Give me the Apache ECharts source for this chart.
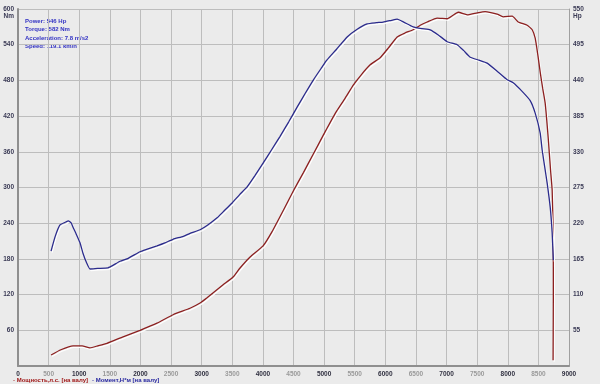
<!DOCTYPE html>
<html>
<head>
<meta charset="utf-8">
<script src="https://cdn.jsdelivr.net/npm/echarts@6/dist/echarts.min.js"></script>
<style>
html,body{margin:0;padding:0;background:#ebebeb;}
#c{width:600px;height:384px;}
</style>
</head>
<body>
<div id="c"></div>
<script>
// Torque curve (Nm, left axis)
const torqueRpm = [540,605,686,780,822,870,904,950,1013,1060,1122,1176,1300,1470,1550,1667,1800,1993,2100,2271,2400,2533,2700,2810,2974,3100,3252,3350,3497,3620,3742,3870,4003,4140,4281,4420,4559,4690,4826,4950,5044,5200,5376,5540,5703,5850,5964,6100,6193,6300,6454,6600,6732,6870,7010,7173,7280,7386,7530,7663,7830,7990,8088,8230,8366,8448,8529,8562,8610,8644,8693,8725,8742,8745];
const torqueNm  = [193,217,237,242,244,240,232,222,207,190,173,163,164,165,169,176,181,192,196,202,207,213,218,223,229,237,249,259,274,288,301,320,341,363,386,410,435,458,481,500,514,532,553,566,575,577,578,581,583,578,570,567,565,556,545,540,530,519,514,509,495,481,476,462,446,425,392,363,330,307,267,224,183,178];
// Power curve (Hp, right axis)
const powerRpm = [540,700,899,1046,1176,1300,1454,1716,1993,2271,2533,2810,2974,3088,3350,3513,3627,3791,4003,4150,4335,4499,4662,4826,4989,5098,5207,5340,5479,5610,5752,5915,6050,6193,6320,6454,6570,6683,6846,7010,7100,7190,7353,7500,7631,7827,7925,8072,8170,8317,8399,8448,8490,8529,8570,8611,8660,8700,8725,8742,8744,8744,8742,8740];
const powerHp  = [17,25,31,31,28,31,35,45,55,66,79,89,97,105,125,137,151,168,185,207,240,270,298,327,356,375,393,412,433,449,464,475,490,507,513,518,525,530,536,535,540,545,541,544,546,542,538,539,530,525,518,505,480,453,428,405,352,300,271,205,150,100,50,9];
// Texts
const infoLines = ["Power: 546 Hp","Torque: 582 Nm","Acceleration: 7.8 m/s2","Speed: 119.1 km/h"];
const legendPower = "- Мощность,л.с. [на валу]";
const legendTorque = "- Момент,Н*м [на валу]";
const leftUnit = "Nm", rightUnit = "Hp";

const FONT = "'Liberation Sans',sans-serif";
const torqueData = torqueRpm.map((r,i)=>[r,torqueNm[i]]);
const powerData = powerRpm.map((r,i)=>[r,powerHp[i]]);

const chart = echarts.init(document.getElementById('c'));
const lineShadow = {shadowColor:'rgba(255,255,255,0.95)', shadowBlur:0, shadowOffsetX:1, shadowOffsetY:1.5};
const lab = {fontFamily:FONT,fontSize:6.5,fontWeight:'bold',color:'#3a3a55'};
chart.setOption({
  backgroundColor:'#ebebeb',
  animation:false,
  grid:{left:18,right:31,top:9,bottom:18,show:false},
  xAxis:{type:'value',min:0,max:9000,interval:500,
    axisLine:{show:true,onZero:false,lineStyle:{color:'#8f8f8f',width:2}},
    axisTick:{show:false},
    splitLine:{show:true,lineStyle:{color:'#bdbdbd',width:1}},
    axisLabel:{margin:5,fontFamily:FONT,fontSize:6.5,fontWeight:'bold',
      formatter:v=> (v%1000===0 ? '{a|'+v+'}' : '{b|'+v+'}'),
      rich:{a:{color:'#303040',fontFamily:FONT,fontSize:6.5,fontWeight:'bold'},b:{color:'#9a9a9a',fontFamily:FONT,fontSize:6.5}}}
  },
  yAxis:[
    {type:'value',min:0,max:600,interval:60,position:'left',
      axisLine:{show:true,lineStyle:{color:'#8f8f8f',width:2}},
      axisTick:{show:false},
      splitLine:{show:true,lineStyle:{color:'#bdbdbd',width:1}},
      axisLabel:Object.assign({margin:4,showMinLabel:false,
        formatter:v=> v===600 ? '{t|'+v+'}\n{u|'+leftUnit+'}' : String(v),
        rich:{t:Object.assign({padding:[8,0,0,0]},lab),u:Object.assign({lineHeight:7},lab)}},lab)
    },
    {type:'value',min:0,max:550,interval:55,position:'right',
      axisLine:{show:true,lineStyle:{color:'#a0a0a0',width:1}},
      axisTick:{show:false},
      splitLine:{show:false},
      axisLabel:Object.assign({margin:4,showMinLabel:false,align:'left',
        formatter:v=> v===550 ? '{t|'+v+'}\n{u|'+rightUnit+'}' : String(v),
        rich:{t:Object.assign({padding:[8,0,0,0]},lab),u:Object.assign({lineHeight:7},lab)}},lab)
    }
  ],
  series:[
    {name:'power',type:'line',yAxisIndex:1,data:powerData,showSymbol:false,smooth:0.15,
      lineStyle:Object.assign({color:'#8c2020',width:1.3},lineShadow)},
    {name:'torque',type:'line',yAxisIndex:0,data:torqueData,showSymbol:false,smooth:0.15,
      lineStyle:Object.assign({color:'#2b2b8c',width:1.3},lineShadow)}
  ],
  graphic: infoLines.map((t,i)=>({type:'text',left:25,top:18.5+i*8.2,style:{text:t,fill:'#3333c4',font:'bold 6px '+FONT}})).concat([
    {type:'text',left:13,top:377.5,style:{text:legendPower,fill:'#a01818',font:'bold 6px '+FONT}},
    {type:'text',left:92,top:377.5,style:{text:legendTorque,fill:'#2828a0',font:'bold 6px '+FONT}}
  ])
});
</script>
</body>
</html>
